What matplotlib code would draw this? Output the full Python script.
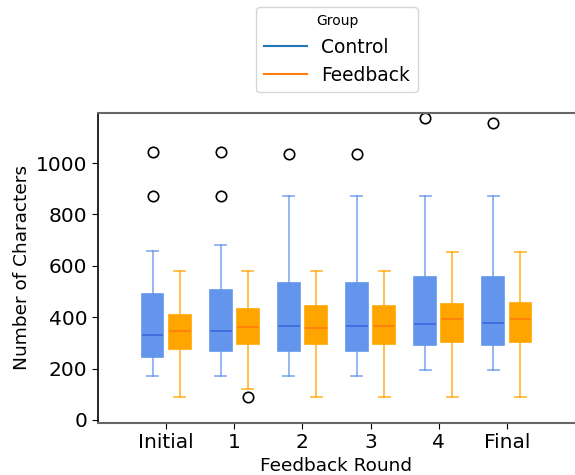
import matplotlib
matplotlib.use("Agg")
import matplotlib.pyplot as plt
from matplotlib.lines import Line2D

rounds = ["Initial", "1", "2", "3", "4", "Final"]

# Control group box stats
ctrl_whislo = [170, 170, 170, 172, 195, 195]
ctrl_q1 = [244, 267, 267, 267, 293, 293]
ctrl_med = [332, 346, 367, 367, 375, 376]
ctrl_q3 = [490, 507, 532, 532, 558, 558]
ctrl_whishi = [657, 681, 873, 873, 873, 873]
ctrl_fliers = [[872, 1042], [872, 1042], [1035], [1035], [1175], [1157]]

# Feedback group box stats
fb_whislo = [91, 121, 91, 91, 91, 91]
fb_q1 = [275, 294, 294, 294, 303, 303]
fb_med = [345, 362, 359, 367, 392, 394]
fb_q3 = [410, 432, 442, 442, 451, 454]
fb_whishi = [580, 580, 580, 580, 655, 655]
fb_fliers = [[], [91], [], [], [], []]


def make_stats(lo, q1, med, q3, hi, fl):
    out = []
    for i in range(len(lo)):
        out.append({"whislo": lo[i], "q1": q1[i], "med": med[i], "q3": q3[i],
                    "whishi": hi[i], "fliers": fl[i]})
    return out


fig = plt.figure(figsize=(5.75, 4.75), dpi=100)
ax = fig.add_axes([98 / 575, 52 / 475, 477 / 575, 310 / 475])

pos = list(range(len(rounds)))
groups = [
    (make_stats(ctrl_whislo, ctrl_q1, ctrl_med, ctrl_q3, ctrl_whishi, ctrl_fliers),
     -0.2, "cornflowerblue", "royalblue"),
    (make_stats(fb_whislo, fb_q1, fb_med, fb_q3, fb_whishi, fb_fliers),
     0.2, "orange", "#ff7f0e"),
]
for stats, off, col, medcol in groups:
    ax.bxp(stats, positions=[p + off for p in pos], widths=0.32, patch_artist=True,
           boxprops=dict(facecolor=col, edgecolor=col, alpha=1.0, linewidth=1.2),
           whiskerprops=dict(color=col, alpha=0.75, linewidth=1.3),
           capprops=dict(color=col, alpha=0.75, linewidth=1.3),
           medianprops=dict(color=medcol, linewidth=1.3),
           flierprops=dict(marker="o", markerfacecolor="none", markeredgecolor="black",
                           markersize=7.5, markeredgewidth=1.2))

ax.set_xticks(pos)
ax.set_xticklabels(rounds)
ax.set_xlim(-1, 6)
ax.set_ylim(-12, 1195)
ax.set_yticks([0, 200, 400, 600, 800, 1000])
ax.tick_params(labelsize=14.5, length=4)
ax.set_xlabel("Feedback Round", fontsize=13.3, labelpad=3)
ax.set_ylabel("Number of Characters", fontsize=13.3)

ax.spines["right"].set_visible(False)
ax.spines["left"].set_color("black")
ax.spines["left"].set_linewidth(1.2)
ax.spines["top"].set_color("#666666")
ax.spines["bottom"].set_color("#666666")
ax.spines["top"].set_linewidth(1.5)
ax.spines["bottom"].set_linewidth(1.5)

handles = [Line2D([0], [0], color="tab:blue", lw=1.5),
           Line2D([0], [0], color="tab:orange", lw=1.5)]
fig.legend(handles, ["Control", "Feedback"], title="Group", loc="upper center",
           bbox_to_anchor=(337 / 575, 1.005), fontsize=13.4, title_fontsize=10,
           handlelength=2.3)

fig.savefig("out.png", dpi=100)
